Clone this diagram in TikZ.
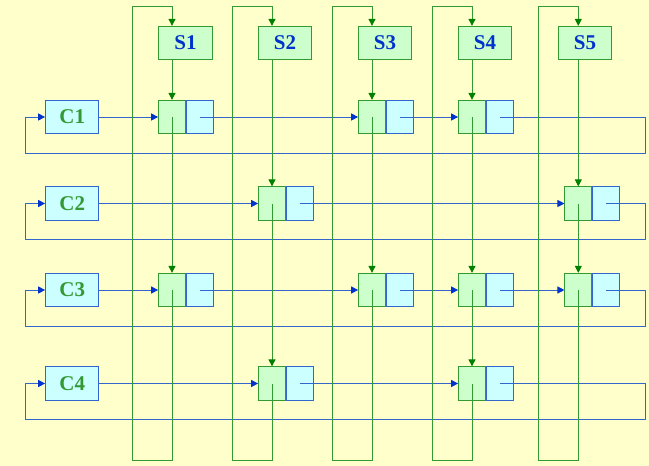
\documentclass[tikz,border=0pt]{standalone}
\usepackage{fontspec}
\setmainfont{Liberation Serif}
\usetikzlibrary{arrows.meta}

\definecolor{paper}{HTML}{FFFFCC}
\definecolor{lgreen}{HTML}{CCFFCC}
\definecolor{lcyan}{HTML}{CCFFFF}
\definecolor{dgreen}{HTML}{339933}
\definecolor{tipgreen}{HTML}{008000}
\definecolor{dblue}{HTML}{3366CC}
\definecolor{tipblue}{HTML}{0033CC}

\begin{document}
\begin{tikzpicture}[x=1pt, y=-1pt,
    font=\fontsize{21}{24}\selectfont\bfseries,
    sbox/.style={draw=dgreen, fill=lgreen, text=tipblue, line width=1pt,
                 minimum width=53.3pt, minimum height=33.3pt, inner sep=0pt},
    cbox/.style={draw=dblue, fill=lcyan, text=dgreen, line width=1pt,
                 minimum width=53.3pt, minimum height=33.3pt, inner sep=0pt},
    keyhalf/.style={draw=dgreen, fill=lgreen, line width=1pt,
                 minimum width=26.7pt, minimum height=33.3pt, inner sep=0pt},
    linkhalf/.style={draw=dblue, fill=lcyan, line width=1pt, anchor=west,
                 minimum width=26.7pt, minimum height=33.3pt, inner sep=0pt},
    gline/.style={draw=dgreen, line width=0.9pt,
                 -{Triangle[length=7pt,width=7pt,color=tipgreen]}},
    bline/.style={draw=dblue, line width=0.9pt,
                 -{Triangle[length=7pt,width=7pt,color=tipblue]}}]

    \fill[paper] (0,0) rectangle (649,466);
    \useasboundingbox (0,0) rectangle (649,466);

    % Column heads
    \node[sbox] (s1) at (185.5,43) {S1};
    \node[sbox] (s2) at (285,43) {S2};
    \node[sbox] (s3) at (385,43) {S3};
    \node[sbox] (s4) at (485,43) {S4};
    \node[sbox] (s5) at (585,43) {S5};

    % Row heads
    \node[cbox] (c1) at (72.3,117) {C1};
    \node[cbox] (c2) at (72.3,203.5) {C2};
    \node[cbox] (c3) at (72.3,290) {C3};
    \node[cbox] (c4) at (72.3,383.5) {C4};

    % Cells: left half on the column line, right half beside it
    \node[keyhalf] (c1s1) at (172,117) {};
    \node[linkhalf] (c1s1r) at (c1s1.east) {};
    \node[keyhalf] (c1s3) at (372,117) {};
    \node[linkhalf] (c1s3r) at (c1s3.east) {};
    \node[keyhalf] (c1s4) at (472,117) {};
    \node[linkhalf] (c1s4r) at (c1s4.east) {};

    \node[keyhalf] (c2s2) at (272,203.5) {};
    \node[linkhalf] (c2s2r) at (c2s2.east) {};
    \node[keyhalf] (c2s5) at (578.3,203.5) {};
    \node[linkhalf] (c2s5r) at (c2s5.east) {};

    \node[keyhalf] (c3s1) at (172,290) {};
    \node[linkhalf] (c3s1r) at (c3s1.east) {};
    \node[keyhalf] (c3s3) at (372,290) {};
    \node[linkhalf] (c3s3r) at (c3s3.east) {};
    \node[keyhalf] (c3s4) at (472,290) {};
    \node[linkhalf] (c3s4r) at (c3s4.east) {};
    \node[keyhalf] (c3s5) at (578.3,290) {};
    \node[linkhalf] (c3s5r) at (c3s5.east) {};

    \node[keyhalf] (c4s2) at (272,383.5) {};
    \node[linkhalf] (c4s2r) at (c4s2.east) {};
    \node[keyhalf] (c4s4) at (472,383.5) {};
    \node[linkhalf] (c4s4r) at (c4s4.east) {};

    % Turning points of the loops
    \coordinate (s1top) at (172,6);    \coordinate (s1bot) at (132,460);
    \coordinate (s2top) at (272,6);    \coordinate (s2bot) at (232,460);
    \coordinate (s3top) at (372,6);    \coordinate (s3bot) at (332,460);
    \coordinate (s4top) at (472,6);    \coordinate (s4bot) at (432,460);
    \coordinate (s5top) at (578.3,6);  \coordinate (s5bot) at (538.3,460);
    \coordinate (c1end) at (645,153);   \coordinate (c1beg) at (25.7,153);
    \coordinate (c2end) at (645,239.5); \coordinate (c2beg) at (25.7,239.5);
    \coordinate (c3end) at (645,326.3); \coordinate (c3beg) at (25.7,326.3);
    \coordinate (c4end) at (645,419.5); \coordinate (c4beg) at (25.7,419.5);

    % Row lists
    \draw[bline] (c1) -- (c1s1);
    \draw[bline] (c1s1r.center) -- (c1s3);
    \draw[bline] (c1s3r.center) -- (c1s4);
    \draw[bline] (c1s4r.center) -| (c1end) -- (c1beg) |- (c1);

    \draw[bline] (c2) -- (c2s2);
    \draw[bline] (c2s2r.center) -- (c2s5);
    \draw[bline] (c2s5r.center) -| (c2end) -- (c2beg) |- (c2);

    \draw[bline] (c3) -- (c3s1);
    \draw[bline] (c3s1r.center) -- (c3s3);
    \draw[bline] (c3s3r.center) -- (c3s4);
    \draw[bline] (c3s4r.center) -- (c3s5);
    \draw[bline] (c3s5r.center) -| (c3end) -- (c3beg) |- (c3);

    \draw[bline] (c4) -- (c4s2);
    \draw[bline] (c4s2r.center) -- (c4s4);
    \draw[bline] (c4s4r.center) -| (c4end) -- (c4beg) |- (c4);

    % Column lists
    \draw[gline] (s1.south -| c1s1) -- (c1s1);
    \draw[gline] (c1s1.center) -- (c3s1);
    \draw[gline] (c3s1.center) |- (s1bot) |- (s1top) -- (s1.north -| s1top);

    \draw[gline] (s2.south -| c2s2) -- (c2s2);
    \draw[gline] (c2s2.center) -- (c4s2);
    \draw[gline] (c4s2.center) |- (s2bot) |- (s2top) -- (s2.north -| s2top);

    \draw[gline] (s3.south -| c1s3) -- (c1s3);
    \draw[gline] (c1s3.center) -- (c3s3);
    \draw[gline] (c3s3.center) |- (s3bot) |- (s3top) -- (s3.north -| s3top);

    \draw[gline] (s4.south -| c1s4) -- (c1s4);
    \draw[gline] (c1s4.center) -- (c3s4);
    \draw[gline] (c3s4.center) -- (c4s4);
    \draw[gline] (c4s4.center) |- (s4bot) |- (s4top) -- (s4.north -| s4top);

    \draw[gline] (s5.south -| c2s5) -- (c2s5);
    \draw[gline] (c2s5.center) -- (c3s5);
    \draw[gline] (c3s5.center) |- (s5bot) |- (s5top) -- (s5.north -| s5top);
\end{tikzpicture}
\end{document}
